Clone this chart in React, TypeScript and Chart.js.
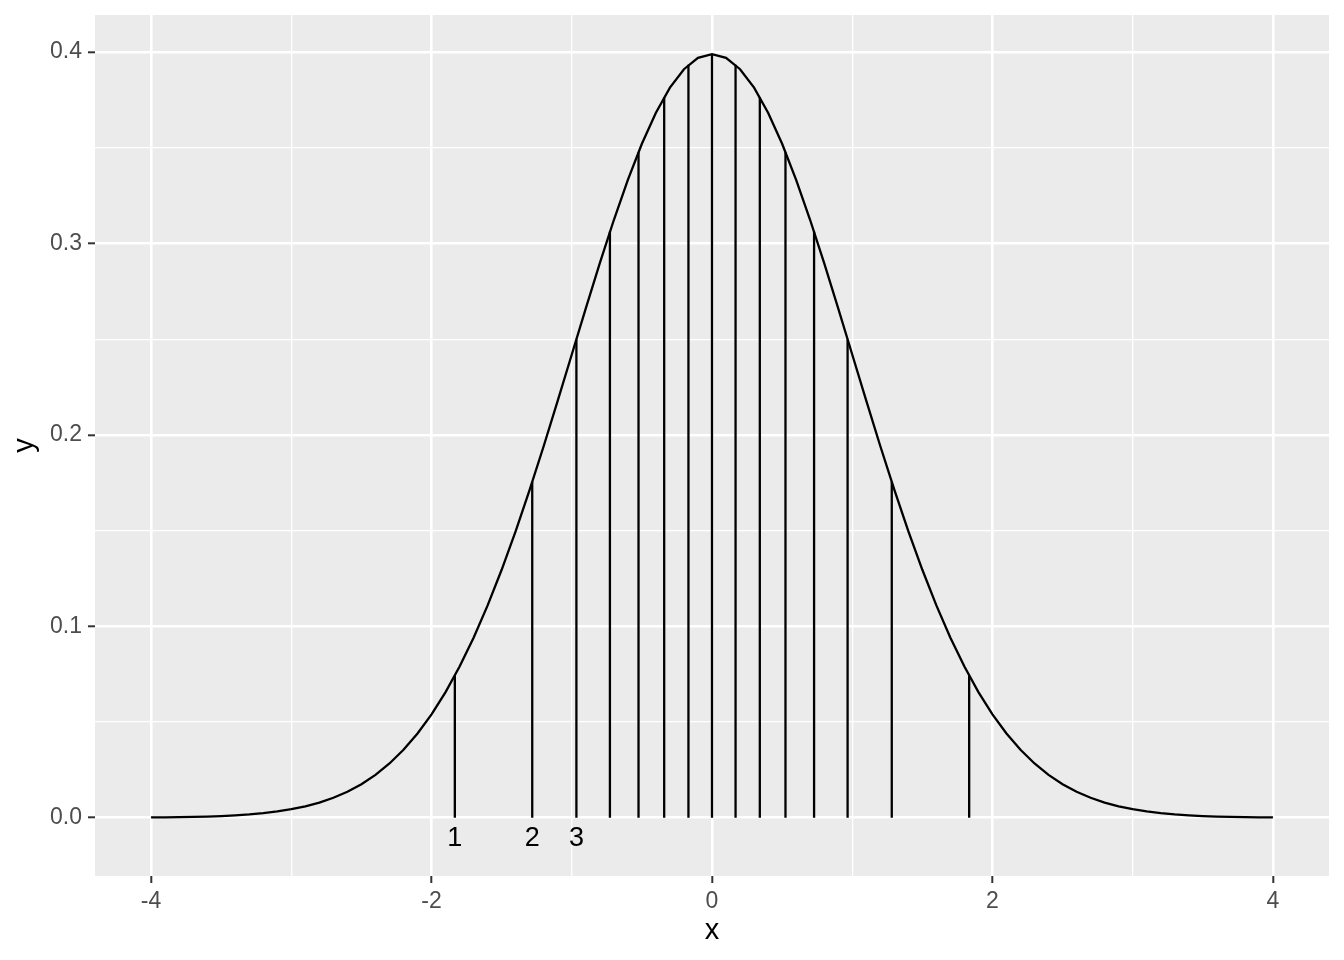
import { useEffect, useRef } from "react";
import { Chart, registerables } from "chart.js";

Chart.register(...registerables);

// Density curve (standard normal), read at x = -4 .. 4
const curveX = [
  -4.0, -3.9, -3.8, -3.7, -3.6, -3.5, -3.4, -3.3, -3.2, -3.1,
  -3.0, -2.9, -2.8, -2.7, -2.6, -2.5, -2.4, -2.3, -2.2, -2.1,
  -2.0, -1.9, -1.8, -1.7, -1.6, -1.5, -1.4, -1.3, -1.2, -1.1,
  -1.0, -0.9, -0.8, -0.7, -0.6, -0.5, -0.4, -0.3, -0.2, -0.1,
  0.0, 0.1, 0.2, 0.3, 0.4, 0.5, 0.6, 0.7, 0.8, 0.9,
  1.0, 1.1, 1.2, 1.3, 1.4, 1.5, 1.6, 1.7, 1.8, 1.9,
  2.0, 2.1, 2.2, 2.3, 2.4, 2.5, 2.6, 2.7, 2.8, 2.9,
  3.0, 3.1, 3.2, 3.3, 3.4, 3.5, 3.6, 3.7, 3.8, 3.9, 4.0,
];
const curveY = [
  0.00013, 0.0002, 0.00029, 0.00042, 0.00061, 0.00087, 0.00123, 0.00172, 0.00238, 0.00327,
  0.00443, 0.00595, 0.00792, 0.01042, 0.01358, 0.01753, 0.02239, 0.02833, 0.03547, 0.04398,
  0.05399, 0.06562, 0.07895, 0.09405, 0.11092, 0.12952, 0.14973, 0.17137, 0.19419, 0.21785,
  0.24197, 0.26609, 0.28969, 0.31225, 0.33322, 0.35207, 0.36827, 0.38139, 0.39104, 0.39695,
  0.39894, 0.39695, 0.39104, 0.38139, 0.36827, 0.35207, 0.33322, 0.31225, 0.28969, 0.26609,
  0.24197, 0.21785, 0.19419, 0.17137, 0.14973, 0.12952, 0.11092, 0.09405, 0.07895, 0.06562,
  0.05399, 0.04398, 0.03547, 0.02833, 0.02239, 0.01753, 0.01358, 0.01042, 0.00792, 0.00595,
  0.00443, 0.00327, 0.00238, 0.00172, 0.00123, 0.00087, 0.00061, 0.00042, 0.00029, 0.0002, 0.00013,
];

// Vertical segments at the quantiles
const quantileX = [
  -1.834, -1.282, -0.967, -0.728, -0.524, -0.341, -0.168, 0,
  0.168, 0.341, 0.524, 0.728, 0.967, 1.282, 1.834,
];
const quantileY = [
  0.0743, 0.1755, 0.2498, 0.3063, 0.3476, 0.3764, 0.3934, 0.3989,
  0.3934, 0.3764, 0.3476, 0.3063, 0.2498, 0.1755, 0.0743,
];

// Text labels under the first segments
const labelX = [-1.834, -1.282, -0.967];
const labelText = ["1", "2", "3"];
const labelY = -0.011;

// Axes
const xTicks = [-4, -3, -2, -1, 0, 1, 2, 3, 4];
const xMajor = [-4, -2, 0, 2, 4];
const yTicks = [0, 0.05, 0.1, 0.15, 0.2, 0.25, 0.3, 0.35, 0.4];
const yMajor = [0, 0.1, 0.2, 0.3, 0.4];
const xRange = [-4.4, 4.4];
const yRange = [-0.03045, 0.41935];

const FONT = "'Liberation Sans', Arial, Helvetica, sans-serif";

export default function App() {
  const ref = useRef<HTMLCanvasElement | null>(null);

  useEffect(() => {
    if (!ref.current) return;

    const datasets: any[] = [
      {
        data: curveX.map((x, i) => ({ x, y: curveY[i] })),
        borderColor: "#000000",
        borderWidth: 2.3,
        pointRadius: 0,
        showLine: true,
        fill: false,
      },
    ];
    quantileX.forEach((qx, i) => {
      datasets.push({
        data: [
          { x: qx, y: 0 },
          { x: qx, y: quantileY[i] },
        ],
        borderColor: "#000000",
        borderWidth: 2.3,
        pointRadius: 0,
        showLine: true,
        fill: false,
      });
    });

    const bgPlugin = {
      id: "panelBg",
      beforeDraw(chart: any) {
        const { ctx, chartArea } = chart;
        ctx.save();
        ctx.fillStyle = "#EBEBEB";
        ctx.fillRect(chartArea.left, chartArea.top, chartArea.right - chartArea.left, chartArea.bottom - chartArea.top);
        ctx.restore();
      },
    };

    const labelPlugin = {
      id: "textLabels",
      afterDatasetsDraw(chart: any) {
        const { ctx } = chart;
        const xs = chart.scales.x;
        const ys = chart.scales.y;
        ctx.save();
        ctx.fillStyle = "#000000";
        ctx.font = `27px ${FONT}`;
        ctx.textAlign = "center";
        ctx.textBaseline = "middle";
        labelX.forEach((lx, i) => {
          ctx.fillText(labelText[i], xs.getPixelForValue(lx), ys.getPixelForValue(labelY));
        });
        ctx.restore();
      },
    };

    const chart = new Chart(ref.current, {
      type: "scatter",
      data: { datasets },
      plugins: [bgPlugin, labelPlugin],
      options: {
        animation: false,
        responsive: false,
        devicePixelRatio: 1,
        layout: { padding: { left: 0, right: 15, top: 15, bottom: 0 } },
        plugins: {
          legend: { display: false },
          tooltip: { enabled: false },
        },
        elements: { line: { tension: 0 } },
        scales: {
          x: {
            type: "linear",
            min: xRange[0],
            max: xRange[1],
            afterBuildTicks: (scale: any) => {
              scale.ticks = xTicks.map((v) => ({ value: v }));
            },
            afterFit: (scale: any) => {
              scale.height = 84;
              scale.paddingLeft = 0;
              scale.paddingRight = 0;
            },
            border: { display: false },
            grid: {
              color: "#FFFFFF",
              lineWidth: (c: any) => (c.tick && xMajor.includes(c.tick.value) ? 2.6 : 1.3),
              tickColor: (c: any) => (c.tick && xMajor.includes(c.tick.value) ? "#333333" : "rgba(0,0,0,0)"),
              tickWidth: 2,
              tickLength: 7,
              drawTicks: true,
            },
            ticks: {
              autoSkip: false,
              maxRotation: 0,
              padding: 5,
              color: "#4D4D4D",
              font: { family: FONT, size: 23 },
              callback: (v: any) => (xMajor.includes(Number(v)) ? String(v) : ""),
            },
            title: {
              display: true,
              text: "x",
              color: "#000000",
              font: { family: FONT, size: 29 },
              padding: { top: 0, bottom: 12 },
            },
          },
          y: {
            type: "linear",
            min: yRange[0],
            max: yRange[1],
            afterBuildTicks: (scale: any) => {
              scale.ticks = yTicks.map((v) => ({ value: v }));
            },
            afterFit: (scale: any) => {
              scale.width = 95;
              scale.paddingTop = 0;
              scale.paddingBottom = 0;
            },
            border: { display: false },
            grid: {
              color: "#FFFFFF",
              lineWidth: (c: any) => (c.tick && yMajor.includes(c.tick.value) ? 2.6 : 1.3),
              tickColor: (c: any) => (c.tick && yMajor.includes(c.tick.value) ? "#333333" : "rgba(0,0,0,0)"),
              tickWidth: 2,
              tickLength: 7,
              drawTicks: true,
            },
            ticks: {
              autoSkip: false,
              padding: 6,
              color: "#4D4D4D",
              font: { family: FONT, size: 23 },
              callback: (v: any) => (yMajor.includes(Number(v)) ? Number(v).toFixed(1) : ""),
            },
            title: {
              display: true,
              text: "y",
              color: "#000000",
              font: { family: FONT, size: 29 },
              padding: { top: 8, bottom: 0 },
            },
          },
        },
      } as any,
    });

    return () => chart.destroy();
  }, []);

  return (
    <div style={{ position: "absolute", left: 0, top: 0, width: 1344, height: 960, background: "#FFFFFF" }}>
      <canvas ref={ref} width={1344} height={960} style={{ display: "block", width: 1344, height: 960 }} />
    </div>
  );
}
